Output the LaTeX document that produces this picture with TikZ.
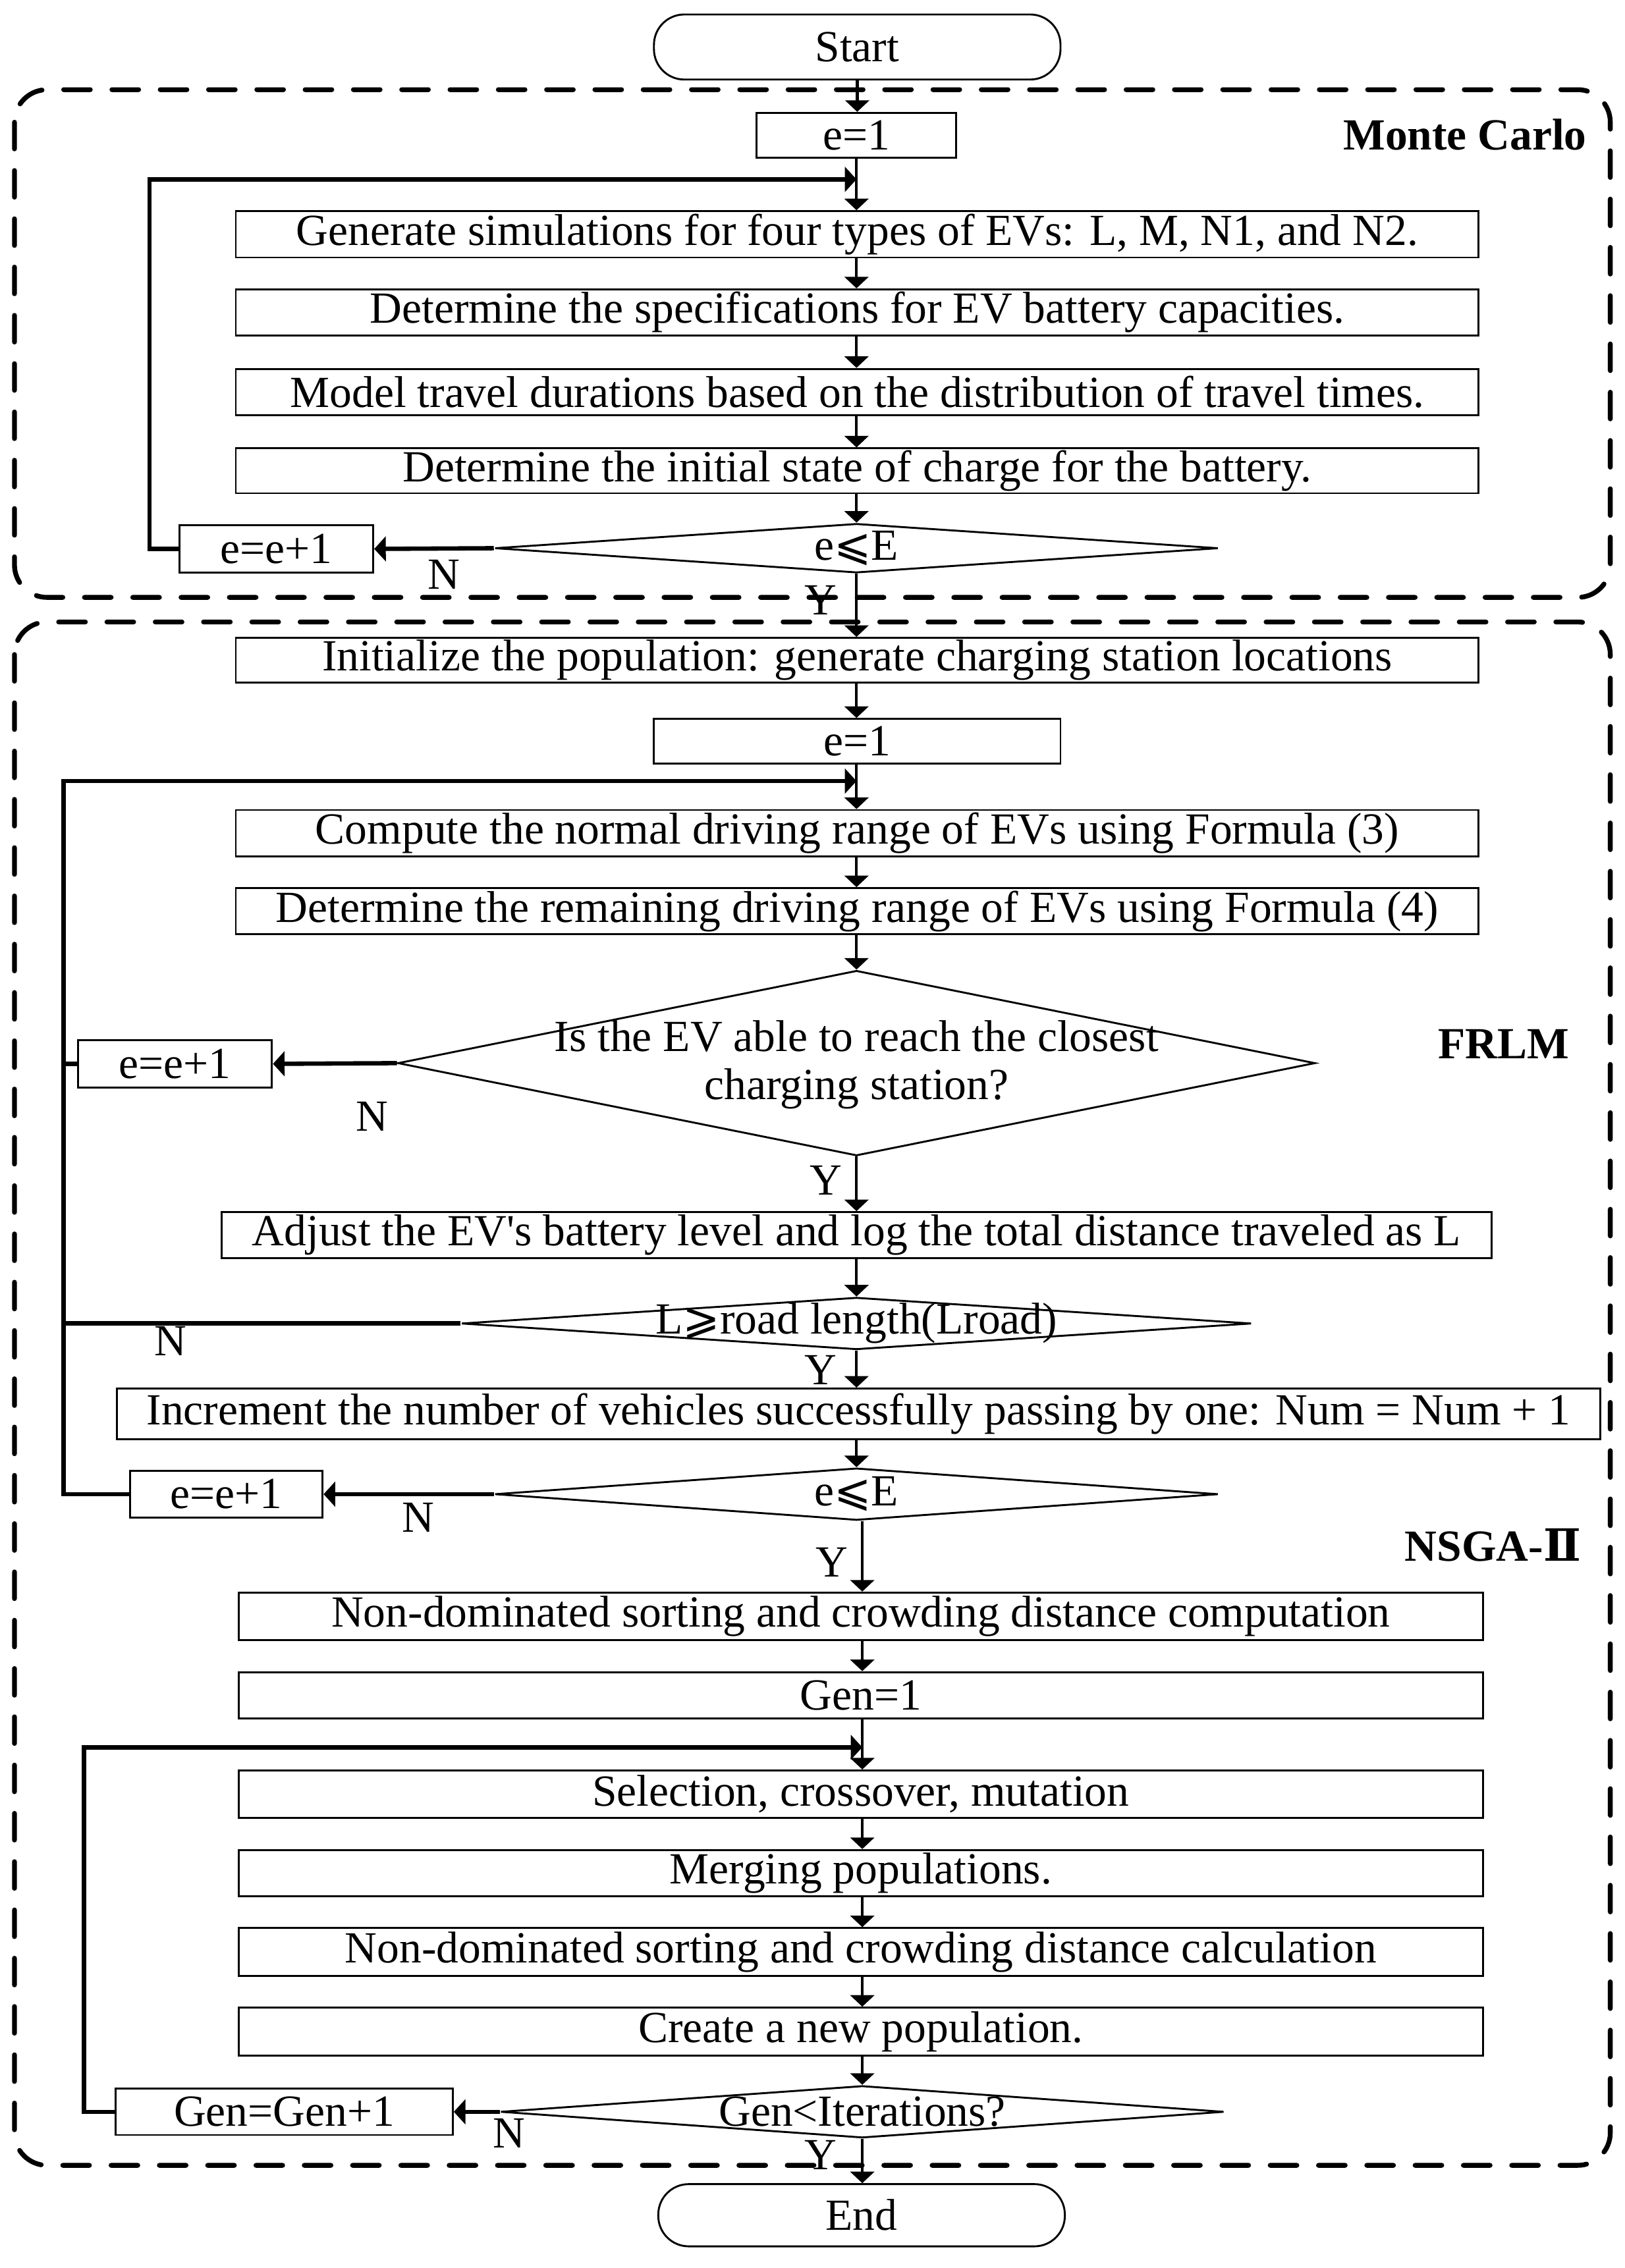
\documentclass[tikz,border=0pt]{standalone}
\usepackage{fontspec}
\setmainfont{Liberation Serif}
\newfontfamily\symfont{DejaVu Serif}
\newfontfamily\mathsym{DejaVu Sans}
\usetikzlibrary{arrows.meta,shapes.geometric}
\newcommand{\fs}{\fontsize{17.5}{21}\selectfont}
\begin{document}
\begin{tikzpicture}[x=0.02cm,y=-0.02cm,
  every node/.style={font=\fs, inner sep=0pt},
  proc/.style={draw, line width=0.75pt, rectangle},
  term/.style={draw, line width=0.75pt, rectangle, rounded corners=0.42cm},
  dec/.style={draw, line width=0.75pt, diamond},
  wd/.style={minimum width=#1*0.02cm},
  ht/.style={minimum height=#1*0.02cm},
  arr/.style={line width=1.1pt, -{Triangle[length=0.16cm,width=0.33cm]}},
  back/.style={line width=1.7pt},
  backarr/.style={line width=1.7pt, -{Triangle[length=0.16cm,width=0.34cm]}},
  frame/.style={line width=1.9pt, dash pattern=on 10.5pt off 8.5pt, line cap=round, rounded corners=0.45cm},
  lab/.style={font=\fs\bfseries}]
\path[use as bounding box] (0,0) rectangle (1123,1568);

% frames
\draw[frame] (10,62) rectangle (1113,413);
\draw[frame] (10,430) rectangle (1113,1497);

% ---------- Monte Carlo ----------
\node[term, wd=281, ht=45] (start) at (592.5,32.5) {Start};
\node[proc, wd=138, ht=31] (e1a) at (592,93.5) {e=1};
\node[lab, anchor=east] (mc) at (1097,93) {Monte Carlo};
\coordinate (j1) at (592,124);
\node[proc, wd=859, ht=32] (g1) at (592.5,162) {Generate simulations for four types of EVs: L, M, N1, and N2.};
\node[proc, wd=859, ht=32] (g2) at (592.5,216) {Determine the specifications for EV battery capacities.};
\node[proc, wd=859, ht=32] (g3) at (592.5,271) {Model travel durations based on the distribution of travel times.};
\node[proc, wd=859, ht=31] (g4) at (592.5,325.5) {Determine the initial state of charge for the battery.};
\node[dec, wd=500, ht=34] (d1) at (592,379) {\makebox[0pt]{e{\mathsym ⩽}E}};
\node[proc, wd=134, ht=33] (i1) at (191,379.5) {e=e+1};
\node (n1) at (307,397) {N};
\node (y1) at (567,415) {Y};

\draw[arr] (start.south) -- (start.south |- e1a.north);
\draw[arr] (e1a.south) -- (e1a.south |- g1.north);
\draw[arr] (g1.south -| d1) -- (d1 |- g2.north);
\draw[arr] (g2.south -| d1) -- (d1 |- g3.north);
\draw[arr] (g3.south -| d1) -- (d1 |- g4.north);
\draw[arr] (g4.south -| d1) -- (d1.north);
\draw[backarr] (d1.west) -- (i1.east);
\draw[backarr] (i1.west) -- ++(-20,0) |- (j1);

% ---------- FRLM ----------
\node[proc, wd=859, ht=31] (init) at (592.5,456.5) {Initialize the population: generate charging station locations};
\node[proc, wd=281, ht=31] (e1b) at (592.5,512.5) {e=1};
\coordinate (j2) at (592,540);
\node[proc, wd=859, ht=32] (comp) at (592.5,576) {Compute the normal driving range of EVs using Formula (3)};
\node[proc, wd=859, ht=32] (rem) at (592.5,630) {Determine the remaining driving range of EVs using Formula (4)};
\node[dec, wd=634, ht=128] (d2) at (592,735) {};
\node[align=center] (d2t) at (592,736) {Is the EV able to reach the closest\\[-2pt]charging station?};
\node[proc, wd=134, ht=33] (i2) at (121,735.5) {e=e+1};
\node (n2) at (257,772) {N};
\node (y2) at (571,816) {Y};
\node[lab, anchor=east] (frlm) at (1085,722) {FRLM};
\node[proc, wd=878, ht=32] (adj) at (592,854) {Adjust the EV\textquotesingle s battery level and log the total distance traveled as L};
\node[dec, wd=546, ht=36] (d3) at (592,915) {\makebox[0pt]{L{\mathsym ⩾}road length(Lroad)}};
\node (n3) at (118,927) {N};
\node (y3) at (567,947) {Y};
\node[proc, wd=1025, ht=35] (incr) at (593.5,977.5) {Increment the number of vehicles successfully passing by one: Num = Num + 1};
\node[dec, wd=500, ht=36] (d4) at (592,1033) {\makebox[0pt]{e{\mathsym ⩽}E}};
\node[proc, wd=133, ht=32] (i3) at (156.5,1033) {e=e+1};
\node (n4) at (289,1049) {N};
\node (y4) at (575,1080) {Y};

\draw[arr] (d1.south) -- (d1.south |- init.north);
\draw[arr] (init.south -| d1) -- (d1 |- e1b.north);
\draw[arr] (e1b.south -| d1) -- (d1 |- comp.north);
\draw[arr] (comp.south -| d1) -- (d1 |- rem.north);
\draw[arr] (rem.south -| d1) -- (d2.north);
\draw[arr] (d2.south) -- (d2.south |- adj.north);
\draw[arr] (adj.south -| d2) -- (d3.north);
\draw[arr] (d3.south) -- (d3.south |- incr.north);
\draw[arr] (incr.south -| d3) -- (d4.north);
\draw[backarr] (d2.west) -- (i2.east);
\draw[backarr] (d4.west) -- (i3.east);
\draw[back] (i2.west) -- (44,735.5);
\draw[back] (d3.west) -- (44,915);
\draw[backarr] (i3.west) -- (44,1033) |- (j2);

% ---------- NSGA-II ----------
\node[lab, anchor=east] (nsga) at (1093,1068) {NSGA-{\symfont Ⅱ}};
\node[proc, wd=860, ht=33] (nds) at (595,1117.5) {Non-dominated sorting and crowding distance computation};
\node[proc, wd=860, ht=32] (gen1) at (595,1172) {Gen=1};
\coordinate (j3) at (596,1208);
\node[proc, wd=860, ht=33] (sel) at (595,1240.5) {Selection, crossover, mutation};
\node[proc, wd=860, ht=32] (merge) at (595,1295) {Merging populations.};
\node[proc, wd=860, ht=33] (ndc) at (595,1349.5) {Non-dominated sorting and crowding distance calculation};
\node[proc, wd=860, ht=33] (create) at (595,1404.5) {Create a new population.};
\node[dec, wd=500, ht=36] (d5) at (596,1460) {\makebox[0pt]{Gen<Iterations?}};
\node[proc, wd=233, ht=32] (gi) at (196.5,1460) {Gen=Gen+1};
\node (n5) at (352,1475) {N};
\node (y5) at (567,1490) {Y};
\node[term, wd=281, ht=43] (end) at (595.5,1531.5) {End};

\draw[arr] (d4.south -| j3) -- (j3 |- nds.north);
\draw[arr] (nds.south -| j3) -- (j3 |- gen1.north);
\draw[arr] (gen1.south -| j3) -- (j3 |- sel.north);
\draw[arr] (sel.south -| j3) -- (j3 |- merge.north);
\draw[arr] (merge.south -| j3) -- (j3 |- ndc.north);
\draw[arr] (ndc.south -| j3) -- (j3 |- create.north);
\draw[arr] (create.south -| j3) -- (d5.north);
\draw[arr] (d5.south) -- (d5.south |- end.north);
\draw[backarr] (d5.west) -- (gi.east);
\draw[backarr] (gi.west) -- (58,1460) |- (j3);
\end{tikzpicture}
\end{document}
